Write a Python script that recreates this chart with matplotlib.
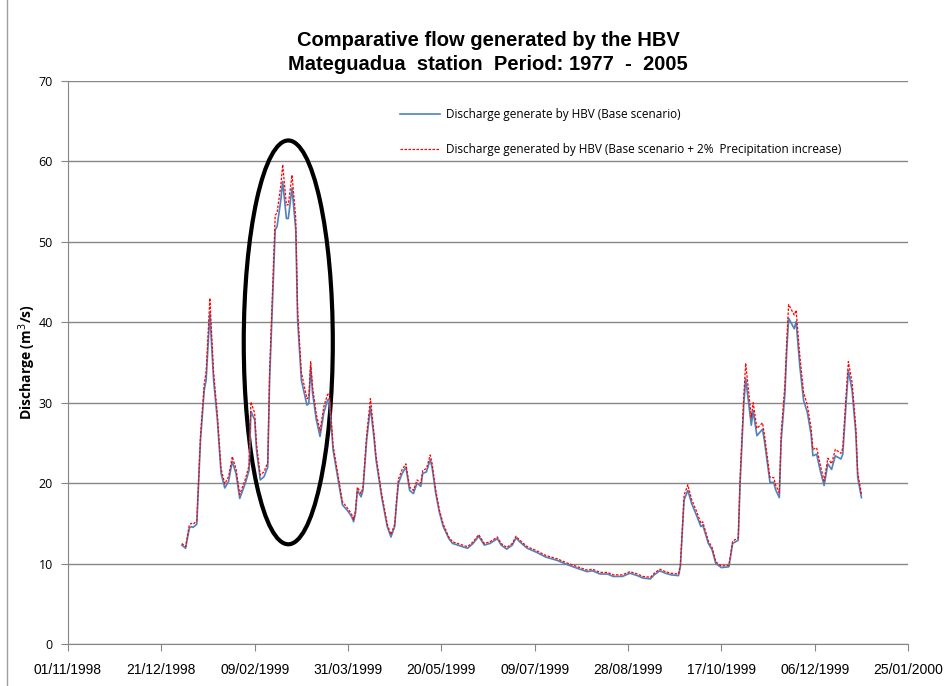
import pandas as pd
import matplotlib
matplotlib.use('Agg')
import matplotlib.pyplot as plt
import matplotlib.dates as mdates
from matplotlib.patches import Ellipse, Rectangle

# day of year 1999 (0 = 01/01/1999) and discharge values
doy = [0, 2, 4, 5, 6, 8, 10, 12, 13, 15, 17, 19, 21, 23, 25, 27, 29, 31, 34, 36,
       37, 39, 40, 42, 44, 46, 47, 49, 50, 51, 53, 54, 56, 57, 59, 61, 62, 64, 67, 68,
       69, 70, 72, 74, 76, 78, 79, 81, 85, 86, 89, 91, 92, 93, 94, 96, 97, 99, 101, 103,
       104, 107, 110, 112, 114, 115, 116, 118, 120, 122, 124, 126, 128, 129, 131, 133, 134, 136, 138, 140,
       143, 145, 149, 153, 156, 159, 162, 165, 169, 171, 174, 177, 179, 181, 185, 190, 195, 201, 206, 212,
       217, 220, 224, 228, 231, 236, 240, 244, 247, 251, 253, 256, 259, 262, 266, 267, 269, 271, 273, 276,
       278, 279, 282, 284, 286, 289, 293, 295, 298, 299, 301, 302, 305, 306, 308, 311, 312, 315, 317, 318,
       320, 321, 323, 324, 325, 328, 329, 331, 333, 335, 337, 338, 340, 342, 344, 346, 348, 350, 353, 354,
       356, 357, 359, 361, 362, 364]

base = [12.3, 11.9, 14.4, 14.6, 14.5, 14.9, 25.4, 31.6, 32.8, 41.1, 32.8, 27.9, 21.2, 19.4, 20.2, 22.7, 21.2, 18.1, 20.0, 21.6,
        28.9, 27.9, 24.1, 20.4, 20.8, 22.0, 32.8, 45.3, 51.5, 51.9, 55.2, 57.5, 52.9, 52.9, 56.7, 51.5, 40.3, 32.8, 29.7, 29.9,
        34.5, 31.2, 27.9, 25.8, 28.7, 30.3, 30.5, 24.1, 18.7, 17.3, 16.5, 15.8, 15.2, 16.3, 19.1, 18.3, 19.1, 25.4, 29.5, 25.4,
        22.9, 18.3, 14.6, 13.3, 14.6, 17.5, 20.0, 21.2, 22.0, 19.1, 18.7, 20.0, 19.6, 21.2, 21.4, 22.9, 22.0, 18.7, 16.3, 14.6,
        13.1, 12.5, 12.2, 11.9, 12.5, 13.4, 12.3, 12.5, 13.1, 12.3, 11.8, 12.3, 13.2, 12.7, 11.9, 11.4, 10.8, 10.4, 9.9, 9.4,
        9.0, 9.1, 8.7, 8.7, 8.4, 8.4, 8.8, 8.5, 8.2, 8.1, 8.6, 9.1, 8.8, 8.6, 8.5, 9.6, 17.9, 19.1, 17.5, 15.8,
        14.6, 14.8, 12.5, 11.7, 10.0, 9.5, 9.6, 12.5, 12.9, 20.0, 29.9, 33.0, 27.2, 29.0, 25.9, 26.7, 25.3, 20.1, 20.1, 19.2,
        18.2, 25.3, 31.1, 36.5, 40.5, 39.2, 40.1, 34.5, 30.3, 28.8, 26.1, 23.4, 23.6, 21.5, 19.7, 22.4, 21.7, 23.4, 23.0, 23.6,
        30.7, 34.0, 31.5, 26.1, 20.7, 18.2]

plus2 = [12.5, 12.1, 14.8, 15.0, 14.9, 15.3, 26.0, 32.4, 33.8, 43.0, 33.8, 28.6, 21.8, 19.9, 20.8, 23.3, 21.8, 18.6, 20.5, 22.2,
         30.1, 28.7, 24.8, 21.0, 21.4, 22.6, 33.8, 46.8, 53.3, 53.6, 57.0, 59.6, 54.6, 54.6, 58.3, 53.0, 41.5, 33.8, 30.5, 30.7,
         35.1, 32.0, 28.6, 26.5, 29.5, 31.0, 31.2, 24.7, 19.1, 17.7, 16.8, 16.1, 15.5, 16.6, 19.5, 18.7, 19.5, 26.0, 30.5, 26.0,
         23.4, 18.7, 14.9, 13.6, 14.9, 17.9, 20.5, 21.7, 22.4, 19.5, 19.1, 20.4, 20.0, 21.6, 21.8, 23.5, 22.5, 19.1, 16.6, 14.9,
         13.3, 12.7, 12.4, 12.1, 12.7, 13.6, 12.5, 12.7, 13.3, 12.5, 12.0, 12.5, 13.4, 12.9, 12.1, 11.6, 11.0, 10.6, 10.1, 9.6,
         9.2, 9.3, 8.9, 8.9, 8.6, 8.6, 9.0, 8.7, 8.4, 8.3, 8.8, 9.3, 9.0, 8.8, 8.7, 9.8, 18.5, 19.8, 18.0, 16.3,
         15.0, 15.2, 12.8, 12.0, 10.2, 9.7, 9.8, 12.8, 13.2, 20.6, 31.0, 34.9, 28.2, 30.0, 26.8, 27.5, 26.1, 20.7, 20.7, 19.8,
         18.8, 26.2, 32.3, 37.9, 42.2, 40.9, 41.5, 35.8, 31.3, 29.7, 26.9, 24.2, 24.4, 22.2, 20.3, 23.1, 22.4, 24.2, 23.7, 24.4,
         31.8, 35.1, 32.5, 26.9, 21.3, 18.6]

dates = pd.Timestamp('1999-01-01') + pd.to_timedelta(doy, unit='D')

plt.rcParams['font.family'] = ['Liberation Sans', 'DejaVu Sans']

fig = plt.figure(figsize=(9.44, 6.86), dpi=100)
ax = fig.add_axes([0.072, 0.0612, 0.890, 0.8208])

ax.plot(dates, base, color='#4f81bd', lw=1.2, label='Discharge generate by HBV (Base scenario)')
ax.plot(dates, plus2, color='#ff0000', lw=0.9, ls=(0, (2, 1.2)),
        label='Discharge generated by HBV (Base scenario + 2%  Precipitation increase)')

# highlight of the peak
ell = Ellipse((mdates.date2num(pd.Timestamp('1999-02-27')), 37.5), 47.7, 50.2,
              fill=False, ec='black', lw=3)
ax.add_patch(ell)

start = pd.Timestamp('1998-11-01')
ticks = [start + pd.Timedelta(days=50 * i) for i in range(10)]
ax.set_xticks(ticks)
ax.xaxis.set_major_formatter(mdates.DateFormatter('%d/%m/%Y'))
ax.set_xlim(ticks[0], ticks[-1])
ax.set_ylim(0, 70)
ax.set_yticks(range(0, 71, 10))

ax.grid(axis='y', color='#868686', lw=1)
ax.set_axisbelow(True)
for s in ['top', 'right']:
    ax.spines[s].set_visible(False)
for s in ['left', 'bottom']:
    ax.spines[s].set_color('#868686')
ax.tick_params(axis='both', colors='#868686', direction='out', length=5, labelcolor='black')
ax.tick_params(axis='x', labelsize=10, pad=9)
ax.tick_params(axis='y', labelsize=9, pad=6)
for lab in ax.get_yticklabels():
    lab.set_family(['Open Sans', 'DejaVu Sans'])

ax.set_ylabel('Discharge (m$^3$/s)', fontsize=10, fontweight='bold',
              family=['Open Sans', 'DejaVu Sans'])
ax.yaxis.set_label_coords(-0.036, 0.5)

ax.set_title('Comparative flow generated by the HBV\nMateguadua  station  Period: 1977  -  2005',
             fontsize=14.5, fontweight='bold', family=['Liberation Sans', 'DejaVu Sans'],
             pad=8, linespacing=1.35)

leg = ax.legend(loc='upper left', bbox_to_anchor=(0.382, 0.97), frameon=False,
                handlelength=3.4, handletextpad=0.5, labelspacing=1.85,
                prop={'family': ['Open Sans', 'DejaVu Sans'], 'size': 8.5})

# chart area border
fig.patches.append(Rectangle((0.0075, -0.01), 1.0, 1.03, transform=fig.transFigure,
                             fill=False, ec='#a0a0a0', lw=1))

fig.savefig('out.png', dpi=100)
